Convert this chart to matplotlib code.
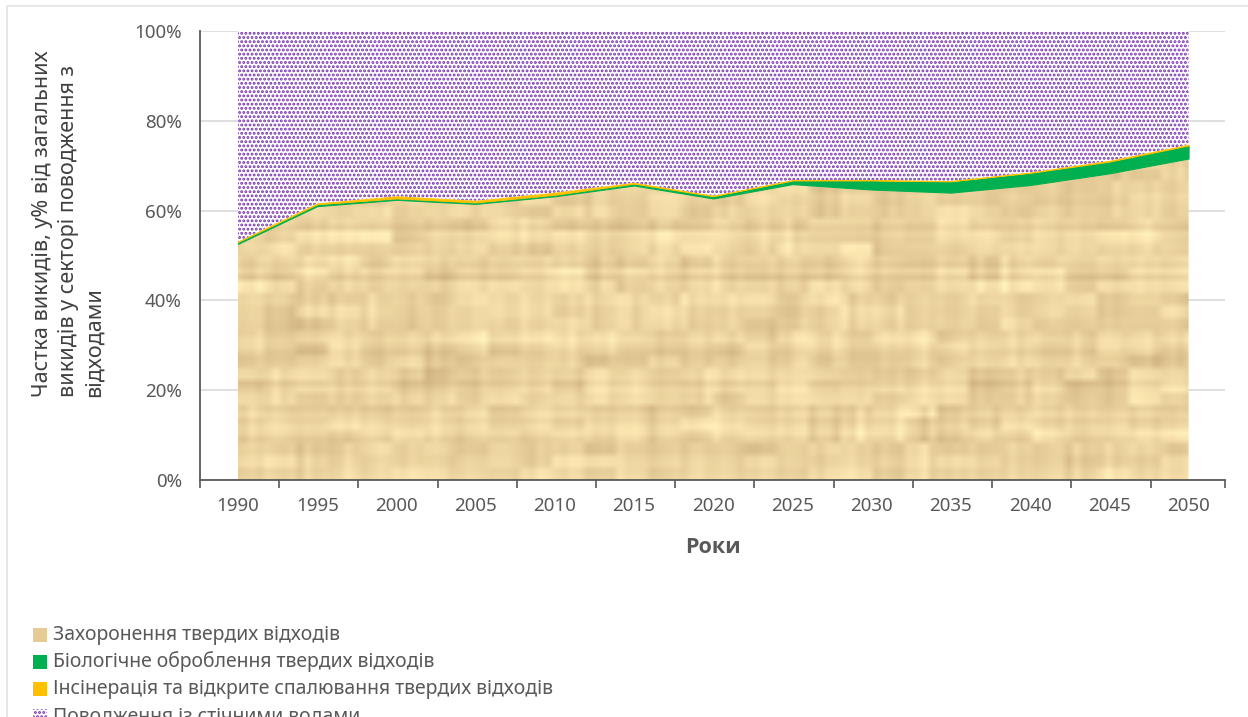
import numpy as np
import matplotlib
matplotlib.use("Agg")
import matplotlib.pyplot as plt
from matplotlib.patches import Rectangle

plt.rcParams['font.family'] = ['Noto Sans', 'DejaVu Sans']
plt.rcParams['hatch.linewidth'] = 1.4

# Emission shares, % of total waste-sector emissions
years = [1990, 1995, 2000, 2005, 2010, 2015, 2020, 2025, 2030, 2035, 2040, 2045, 2050]
landfill = [52.6, 61.0, 62.4, 61.5, 63.2, 65.6, 62.7, 65.9, 64.7, 64.0, 65.7, 68.3, 71.6]
biological = [0.4, 0.4, 0.3, 0.3, 0.3, 0.4, 0.5, 0.8, 2.0, 2.5, 2.7, 2.6, 2.9]
incineration = [0.1, 0.2, 0.5, 0.4, 0.5, 0.2, 0.1, 0.1, 0.1, 0.1, 0.1, 0.2, 0.2]
wastewater = [100 - a - b - c for a, b, c in zip(landfill, biological, incineration)]

labels = ["Захоронення твердих відходів",
          "Біологічне оброблення твердих відходів",
          "Інсінерація та відкрите спалювання твердих відходів",
          "Поводження із стічними водами"]
tick_years = years
y_ticks = [0, 20, 40, 60, 80, 100]

text_grey = "#595959"
green = "#00B050"
orange = "#FFC000"
purple = "#7634B0"

W, H = 1248, 717
fig = plt.figure(figsize=(W / 100, H / 100), dpi=100)
ax = fig.add_axes([200 / W, (H - 480) / H, 1025 / W, 449 / H])
x0, x1 = 1987.6, 2052.3

x = np.array(years, dtype=float)
l = np.array(landfill)
b = l + np.array(biological)
i = b + np.array(incineration)
w = i + np.array(wastewater)

# landfill layer gets a blocky parchment-like texture clipped to its polygon
poly = ax.fill_between(x, 0, l, facecolor="none", edgecolor="none", zorder=2)
rng = np.random.default_rng(5)
rows, cols = 72, 128
tex = rng.normal(0, 1, (rows // 2, cols // 4)).repeat(2, axis=0).repeat(4, axis=1) * 0.45
tex += rng.normal(0, 1, (rows // 6, cols)).repeat(6, axis=0) * 0.35
tex += rng.normal(0, 1, (rows, 1)) * 0.35
base = np.array([237, 213, 160]) / 255
shade = np.array([-13, -15, -14]) / 255
img = np.clip(base[None, None, :] + tex[..., None] * shade[None, None, :], 0, 1)
im = ax.imshow(img, extent=(x0, x1, 0, 100), aspect="auto",
               interpolation="bilinear", zorder=2)
im.set_clip_path(poly.get_paths()[0], transform=ax.transData)

ax.fill_between(x, l, b, facecolor=green, edgecolor=green, linewidth=0.8, zorder=3)
ax.fill_between(x, b, i, facecolor=orange, edgecolor=orange, linewidth=0.6, zorder=3)
ax.fill_between(x, i, w, facecolor="white", edgecolor=purple, hatch="....",
                linewidth=0, zorder=2)

ax.set_xlim(x0, x1)
ax.set_ylim(0, 100)
ax.set_yticks(y_ticks)
ax.set_yticklabels([f"{v}%" for v in y_ticks], color=text_grey, fontsize=13.5)
ax.tick_params(axis="y", length=0, pad=13)
ax.set_xticks(tick_years)
ax.set_xticklabels([str(v) for v in tick_years], color=text_grey, fontsize=13.5)
ax.set_xticks(list(np.arange(x0, 2050, 5)) + [x1], minor=True)
ax.tick_params(axis="x", which="major", length=0, pad=12)
ax.tick_params(axis="x", which="minor", length=6, width=1.2, color="#595959")
ax.grid(axis="y", color="#D9D9D9", linewidth=1.2, zorder=0)
ax.set_axisbelow(True)
for s in ["top", "right"]:
    ax.spines[s].set_visible(False)
for s in ["left", "bottom"]:
    ax.spines[s].set_color("#595959")
    ax.spines[s].set_linewidth(1.3)
    ax.spines[s].set_zorder(5)

ax.set_xlabel("Роки", fontsize=15.5, fontweight="bold", color="#595959", labelpad=16,
              family=["Open Sans", "DejaVu Sans"])

fig.text(32 / W, 1 - 397 / H,
         "Частка викидів, у% від загальних\nвикидів у секторі поводження з\nвідходами",
         rotation=90, rotation_mode="anchor", ha="left", va="top",
         fontsize=15.5, color="#404040", linespacing=1.3)

# frame around the chart
fig.patches.append(Rectangle((7 / W, -0.1), 1.2, 1 - 6 / H + 0.1, transform=fig.transFigure,
                             facecolor="none", edgecolor="#E3E3E3", linewidth=1.2))

# legend entries stacked under the plot
swatches = ["tex", green, orange, "hatch"]
for k, (lab, sw) in enumerate(zip(labels, swatches)):
    yc = 635 + 27 * k
    y0 = 1 - (yc + 7) / H
    if sw == "tex":
        r = Rectangle((33 / W, y0), 14 / W, 14 / H, facecolor="#E6CC94",
                      transform=fig.transFigure, linewidth=0)
    elif sw == "hatch":
        r = Rectangle((33 / W, y0), 14 / W, 14 / H, facecolor="white",
                      edgecolor=purple, hatch="....", transform=fig.transFigure, linewidth=0)
    else:
        r = Rectangle((33 / W, y0), 14 / W, 14 / H, facecolor=sw,
                      transform=fig.transFigure, linewidth=0)
    fig.patches.append(r)
    fig.text(53 / W, 1 - yc / H, lab, ha="left", va="center", fontsize=14, color=text_grey)

fig.savefig("out.png", dpi=100)
